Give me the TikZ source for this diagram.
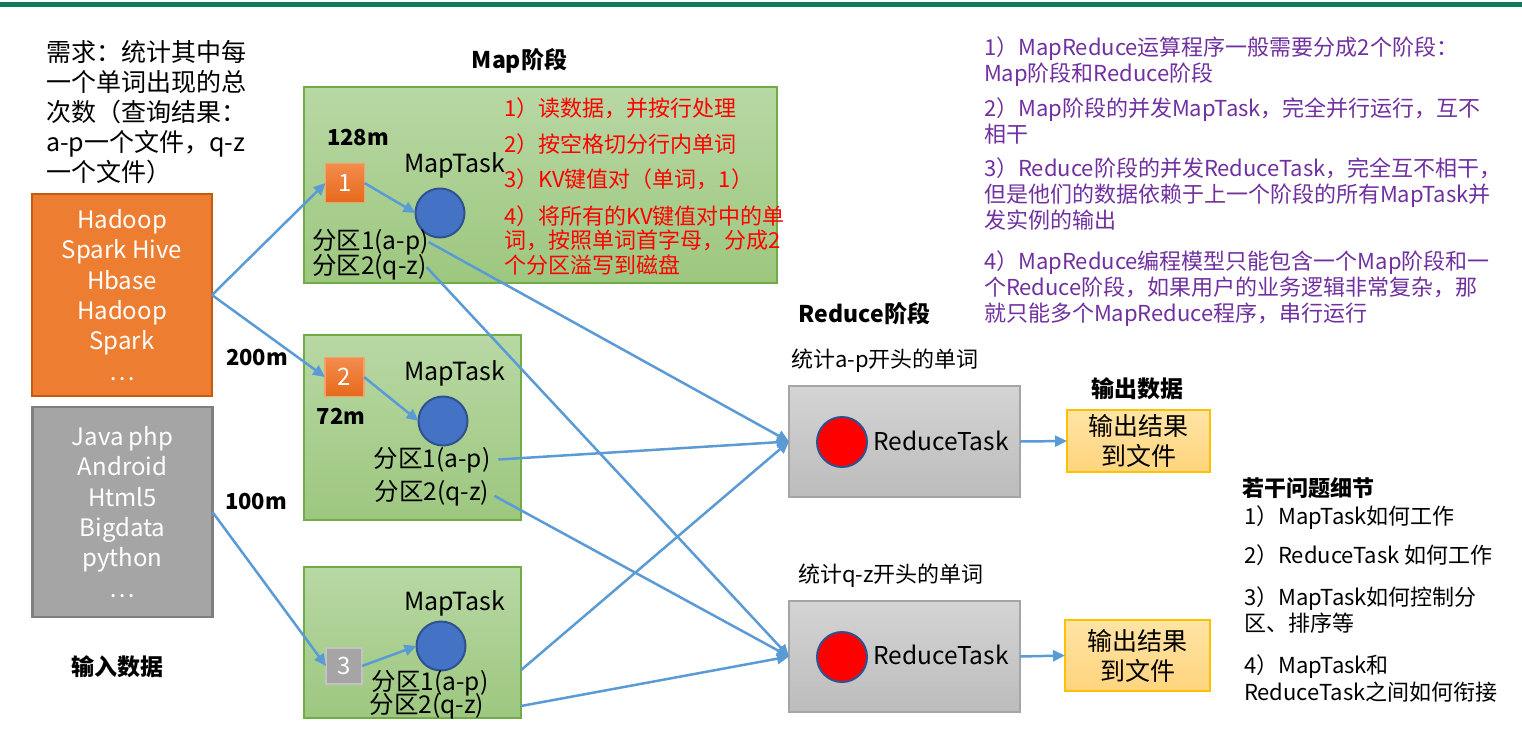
\documentclass[tikz,border=0pt]{standalone}
\usepackage{fontspec}
\setmainfont{Noto Sans CJK SC}
\usetikzlibrary{arrows.meta}

\definecolor{headline}{RGB}{14,122,94}
\definecolor{arrowblue}{RGB}{91,155,213}
\definecolor{orangefill}{RGB}{237,125,49}
\definecolor{orangeline}{RGB}{197,90,17}
\definecolor{greyfill}{RGB}{165,165,165}
\definecolor{greyline}{RGB}{127,127,127}
\definecolor{maptop}{RGB}{184,216,164}
\definecolor{mapbot}{RGB}{157,199,127}
\definecolor{mapline}{RGB}{112,173,71}
\definecolor{taskblue}{RGB}{68,114,196}
\definecolor{taskline}{RGB}{47,82,143}
\definecolor{redtop}{RGB}{212,212,212}
\definecolor{redbot}{RGB}{188,188,188}
\definecolor{outtop}{RGB}{255,228,165}
\definecolor{outbot}{RGB}{255,212,125}
\definecolor{outline}{RGB}{255,192,0}
\definecolor{purpletext}{RGB}{112,48,160}

\begin{document}
\begin{tikzpicture}[x=1pt,y=-1pt,
  every node/.style={inner sep=0pt, outer sep=0pt},
  plain/.style={font=\fontsize{22}{26.3}\selectfont, align=left},
  part/.style={font=\fontsize{24.5}{26}\selectfont},
  title/.style={font=\fontsize{23}{28}\selectfont\bfseries},
  size/.style={font=\fontsize{22}{26}\selectfont\bfseries},
  inbox/.style={draw, line width=2.5pt, align=center, text=white,
    font=\fontsize{24}{30.3}\selectfont, minimum width=180pt},
  mapbox/.style={draw=mapline, line width=2.5pt, top color=maptop, bottom color=mapbot},
  split/.style={minimum size=39pt, line width=1.5pt, text=white,
    font=\fontsize{24}{26}\selectfont},
  task/.style={circle, draw=taskline, line width=2pt, minimum size=49pt},
  redbox/.style={draw=greyfill, line width=2.5pt, top color=redtop, bottom color=redbot,
    minimum width=231pt, minimum height=111pt},
  outbox/.style={draw=outline, line width=2.5pt, top color=outtop, bottom color=outbot,
    align=center, font=\fontsize{25}{30}\selectfont},
  arr/.style={draw=arrowblue, line width=2.5pt, -{Triangle[length=12pt,width=11pt]}}
]
\useasboundingbox (0,0) rectangle (1522,729);
% Header line
\draw[headline, line width=5pt] (0,4.5) -- (1522,4.5);

% Input data
\node[plain, font=\fontsize{25}{30}\selectfont, anchor=west] (need) at (46,112)
  {需求：统计其中每\\一个单词出现的总\\次数（查询结果：\\a-p一个文件，q-z\\一个文件）};
\node[inbox, fill=orangefill, draw=orangeline, minimum height=202pt] (inA) at (122,295)
  {Hadoop\\Spark Hive\\Hbase\\Hadoop\\Spark\\\ldots};
\node[inbox, fill=greyfill, draw=greyline, minimum height=210pt] (inB) at (122.5,512)
  {Java php\\Android\\Html5\\Bigdata\\python\\\ldots};
\node[title] (input) at (117,667) {输入数据};

% Map stage
\node[title] (maptitle) at (519.5,61) {Map阶段};
\node[mapbox, minimum width=473pt, minimum height=196pt] (map1) at (540.5,185) {};
\node[mapbox, minimum width=217pt, minimum height=185pt] (map2) at (412.5,427.5) {};
\node[mapbox, minimum width=217pt, minimum height=151pt] (map3) at (412.5,642.5) {};

\node[size] (s1) at (358,138) {128m};
\node[size] (s2) at (257,358) {200m};
\node[size] (s3) at (341,416) {72m};
\node[size] (s4) at (256,502) {100m};

\node[split, draw={rgb,255:red,248;green,160;blue,105}, top color={rgb,255:red,244;green,140;blue,76},
  bottom color={rgb,255:red,230;green,105;blue,28}] (sq1) at (345,183) {1};
\node[split, draw={rgb,255:red,248;green,160;blue,105}, top color={rgb,255:red,244;green,140;blue,76},
  bottom color={rgb,255:red,230;green,105;blue,28}] (sq2) at (344.5,377) {2};
\node[split, minimum size=36pt, draw={rgb,255:red,195;green,195;blue,195}, fill=greyfill] (sq3) at (344,666) {3};

\foreach \i/\x/\y in {1/454.5/165, 2/454.5/373, 3/454.5/603} {
  \node[plain, font=\fontsize{25}{26}\selectfont] (mt\i) at (\x,\y) {MapTask};
}
\node[task, fill=taskblue] (c1) at (440,213) {};
\node[task, fill=taskblue] (c2) at (443,421) {};
\node[task, fill=taskblue] (c3) at (441,646) {};

\node[part, anchor=west] (p11) at (312,242) {分区1(a-p)};
\node[part, anchor=west] (p12) at (312,267) {分区2(q-z)};
\node[part] (p21) at (432,460) {分区1(a-p)};
\node[part] (p22) at (432,493) {分区2(q-z)};
\node[part] (p31) at (430,683) {分区1(a-p)};
\node[part] (p32) at (427,706) {分区2(q-z)};

% Map steps
\node[plain, text=red, anchor=west] (step1) at (504,108) {1）读数据，并按行处理};
\node[plain, text=red, anchor=west] (step2) at (504,144) {2）按空格切分行内单词};
\node[plain, text=red, anchor=west] (step3) at (504,179) {3）KV键值对（单词，1）};
\node[plain, text=red, anchor=west, font=\fontsize{22}{24.5}\selectfont] (step4) at (504,240)
  {4）将所有的KV键值对中的单\\词，按照单词首字母，分成2\\个分区溢写到磁盘};

% Reduce stage
\node[title] (redtitle) at (864.5,314) {Reduce阶段};
\node[plain] (grpA) at (885,361) {统计a-p开头的单词};
\node[plain] (grpB) at (891,576) {统计q-z开头的单词};
\node[redbox] (red1) at (904.5,441.5) {};
\node[redbox] (red2) at (904.5,656.5) {};
\node[task, fill=red, minimum size=50pt] (rc1) at (842,442) {};
\node[task, fill=red, minimum size=50pt] (rc2) at (842,657) {};
\node[plain, font=\fontsize{24.5}{26}\selectfont] (rt1) at (941,441) {ReduceTask};
\node[plain, font=\fontsize{24.5}{26}\selectfont] (rt2) at (941,655) {ReduceTask};

% Output data
\node[title] (outtitle) at (1137.5,389) {输出数据};
\node[outbox, minimum width=143pt, minimum height=62pt] (out1) at (1138.5,441) {输出结果\\到文件};
\node[outbox, minimum width=145pt, minimum height=71pt] (out2) at (1137.5,655.5) {输出结果\\到文件};

% Notes
\node[plain, text=purpletext, anchor=west] (note1) at (984,61.5)
  {1）MapReduce运算程序一般需要分成2个阶段：\\Map阶段和Reduce阶段};
\node[plain, text=purpletext, anchor=west] (note2) at (984,121)
  {2）Map阶段的并发MapTask，完全并行运行，互不\\相干};
\node[plain, text=purpletext, anchor=west] (note3) at (984,194)
  {3）Reduce阶段的并发ReduceTask，完全互不相干，\\但是他们的数据依赖于上一个阶段的所有MapTask并\\发实例的输出};
\node[plain, text=purpletext, anchor=west] (note4) at (984,288.5)
  {4）MapReduce编程模型只能包含一个Map阶段和一\\个Reduce阶段，如果用户的业务逻辑非常复杂，那\\就只能多个MapReduce程序，串行运行};

\node[title, font=\fontsize{22}{26}\selectfont\bfseries, anchor=west] (qtitle) at (1242,488) {若干问题细节};
\node[plain, anchor=west] (q1) at (1244,518) {1）MapTask如何工作};
\node[plain, anchor=west] (q2) at (1244,555) {2）ReduceTask 如何工作};
\node[plain, anchor=west] (q3) at (1244,610) {3）MapTask如何控制分\\区、排序等};
\node[plain, anchor=west] (q4) at (1244,678.5) {4）MapTask和\\ReduceTask之间如何衔接};

% Connectors
\draw[arr] (inA.east) -- (sq1.west);
\draw[arr] (inA.east) -- (sq2.west);
\draw[arr] (inB.east) -- (sq3.west);
\draw[arr] (sq1.east) -- (c1.west);
\draw[arr] (sq2.east) -- (c2.west);
\draw[arr] (sq3.east) -- (c3.west);
\draw[arr] (p11.east) -- (red1.west);
\draw[arr] (p12.east) -- (red2.west);
\draw[arr, shorten <=8pt] (p21.east) -- (red1.west);
\draw[arr, shorten <=6pt] (p22.east) -- (red2.west);
\draw[arr] (map3.east |- p31.north) -- (red1.west);
\draw[arr] (map3.east |- p32) -- (red2.west);
\draw[arr] (red1.east) -- (out1.west);
\draw[arr] (red2.east) -- (out2.west);
\end{tikzpicture}
\end{document}
